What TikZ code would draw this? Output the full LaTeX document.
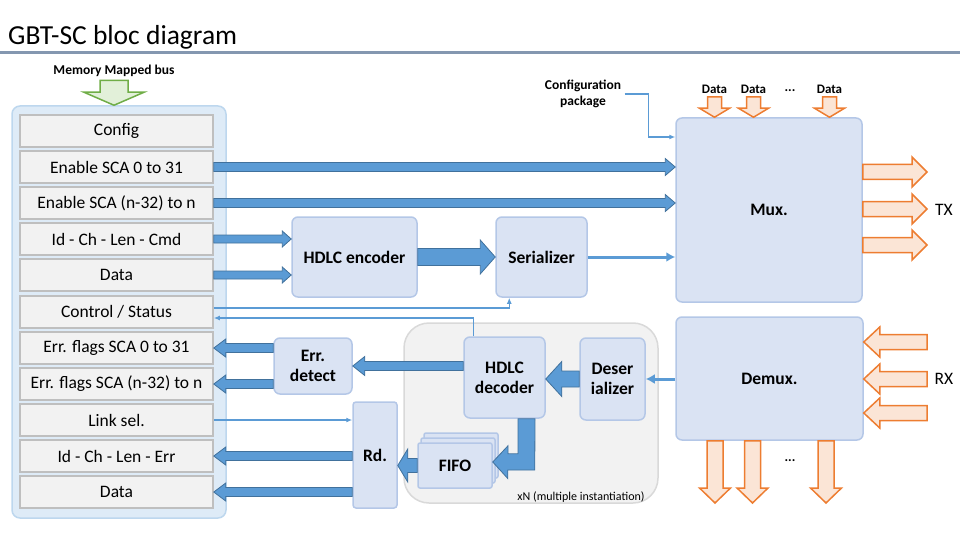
\documentclass[tikz,border=0pt]{standalone}
\usepackage{fontspec}
\setmainfont{Carlito}
\usepackage{xcolor}
\usepackage{tikz}
\usetikzlibrary{arrows.meta,calc}

\definecolor{arrowfill}{HTML}{5B9BD5}
\definecolor{arrowline}{HTML}{41719C}
\definecolor{boxfill}{HTML}{DAE3F3}
\definecolor{boxline}{HTML}{B4C7E7}
\definecolor{busfill}{HTML}{DEEBF7}
\definecolor{busline}{HTML}{BDD7EE}
\definecolor{rowfill}{HTML}{F2F2F2}
\definecolor{rowline}{HTML}{BFBFBF}
\definecolor{instfill}{HTML}{F2F2F2}
\definecolor{instline}{HTML}{D9D9D9}
\definecolor{orangefill}{HTML}{FBE5D6}
\definecolor{orangeline}{HTML}{ED7D31}
\definecolor{greenfill}{HTML}{E2F0D9}
\definecolor{greenline}{HTML}{70AD47}
\definecolor{titleline}{HTML}{8497B0}

% block arrow: [style]{from}{to}{shaft half width}{head half width}{head length}
\newcommand{\blockarrow}[6][bluearrow]{%
  \path (#2) coordinate (ba-s) (#3) coordinate (ba-e);
  \path ($(ba-e)!#6!(ba-s)$) coordinate (ba-h);
  \draw[#1] ($(ba-s)!#4!90:(ba-e)$) -- ($(ba-h)!#4!90:(ba-e)$)
    -- ($(ba-h)!#5!90:(ba-e)$) -- (ba-e) -- ($(ba-h)!#5!-90:(ba-e)$)
    -- ($(ba-h)!#4!-90:(ba-e)$) -- ($(ba-s)!#4!-90:(ba-e)$) -- cycle;}

\begin{document}
\begin{tikzpicture}[x=1pt, y=-1pt,
    rowbox/.style={draw=rowline, fill=rowfill, line width=1.5pt, minimum width=193pt, minimum height=32pt, font=\fontsize{17.5}{20}\selectfont},
    blockbox/.style={draw=boxline, fill=boxfill, line width=1.5pt, rounded corners=6pt, align=center, font=\bfseries\fontsize{17.5}{20}\selectfont},
    smalllabel/.style={align=center, font=\bfseries\fontsize{13.5}{16}\selectfont},
    bluearrow/.style={fill=arrowfill, draw=arrowline, line width=0.8pt},
    orangearrow/.style={fill=orangefill, draw=orangeline, line width=1.5pt},
    greenarrow/.style={fill=greenfill, draw=greenline, line width=1.5pt},
    thinline/.style={draw=arrowfill, line width=1.3pt, -{Latex[length=6pt,width=5pt]}},
    thickline/.style={draw=arrowfill, line width=3pt, -{Latex[length=9pt,width=10pt]}}]
    \useasboundingbox (0,0) rectangle (960,540);

    % Title
    \node[anchor=base west, inner sep=0pt, font=\fontsize{27.5}{30}\selectfont] (title) at (8,45) {GBT-SC bloc diagram};
    \draw[titleline, line width=3pt] (0,52.5) -- (960,52.5);

    % Register bank
    \node[smalllabel] (bus) at (114,71) {Memory Mapped bus};
    \node[fill=busfill, draw=busline, line width=1.5pt, rounded corners=8pt, minimum width=214pt, minimum height=412pt] (regs) at (119,312) {};
    \blockarrow[greenarrow]{bus.south}{bus.south |- regs.north}{14pt}{30pt}{13pt}
    \node[rowbox] (config) at (116.5,131) {Config};
    \node[rowbox] (ensca) at (116.5,167) {Enable SCA 0 to 31};
    \node[rowbox] (enscan) at (116.5,203) {Enable SCA (n-32) to n};
    \node[rowbox] (cmd) at (116.5,239) {Id - Ch - Len - Cmd};
    \node[rowbox] (txdata) at (116.5,275) {Data};
    \node[rowbox] (ctrl) at (116.5,312) {Control / Status};
    \node[rowbox] (errsca) at (116.5,348) {Err. flags SCA 0 to 31};
    \node[rowbox] (errscan) at (116.5,384) {Err. flags SCA (n-32) to n};
    \node[rowbox] (linksel) at (116.5,420) {Link sel.};
    \node[rowbox] (rsp) at (116.5,456) {Id - Ch - Len - Err};
    \node[rowbox] (rxdata) at (116.5,492) {Data};

    % TX path
    \node[blockbox, minimum width=125pt, minimum height=80pt] (enc) at (354.5,257) {HDLC encoder};
    \node[blockbox, minimum width=91pt, minimum height=80pt] (ser) at (541.5,257) {Serializer};
    \node[blockbox, minimum width=186pt, minimum height=184pt] (mux) at (769,210) {Mux.};
    \node[smalllabel] (cfgpkg) at (583,94) {Configuration\\package};
    \node[smalllabel, font=\bfseries\fontsize{13}{15}\selectfont] (d1) at (714.5,89) {Data};
    \node[smalllabel, font=\bfseries\fontsize{13}{15}\selectfont] (d2) at (753.5,89) {Data};
    \node[smalllabel, font=\bfseries\fontsize{13}{15}\selectfont] (d3) at (829.5,89) {Data};
    \node[smalllabel] (tdots) at (790,91) {...};
    \node[font=\fontsize{17.5}{20}\selectfont] (tx) at (944,210) {TX};
    \coordinate (tx1) at (927,172);
    \coordinate (tx2) at (927,209);
    \coordinate (tx3) at (927,245);

    % RX path
    \node[fill=instfill, draw=instline, line width=1.5pt, rounded corners=25pt, minimum width=254pt, minimum height=180pt] (inst) at (531,413) {};
    \node[font=\fontsize{12}{14}\selectfont] (xn) at (581,497) {xN (multiple instantiation)};
    \node[blockbox, minimum width=81pt, minimum height=81pt] (dec) at (504.5,377.5) {HDLC\\decoder};
    \node[blockbox, minimum width=65pt, minimum height=82pt] (deser) at (612.5,379) {Deser\\ializer};
    \node[blockbox, rounded corners=2pt, minimum width=74pt, minimum height=45pt] (fifoc) at (461,455.5) {};
    \node[blockbox, rounded corners=2pt, minimum width=74pt, minimum height=45pt] (fifob) at (458,460.5) {};
    \node[blockbox, rounded corners=2pt, minimum width=74pt, minimum height=45pt] (fifo) at (455,465.5) {FIFO};
    \node[blockbox, minimum width=78pt, minimum height=56pt] (errdet) at (313,366) {Err.\\detect};
    \node[blockbox, rounded corners=3pt, minimum width=44pt, minimum height=106pt] (rd) at (375,455) {Rd.};
    \node[blockbox, minimum width=187pt, minimum height=123pt] (demux) at (769.5,378.5) {Demux.};
    \node[font=\fontsize{17.5}{20}\selectfont] (rx) at (944,379) {RX};
    \node[smalllabel] (bdots) at (790,461) {...};
    \coordinate (rx1) at (927,342);
    \coordinate (rx2) at (927,379);
    \coordinate (rx3) at (927,413);
    \coordinate (dd1) at (715,503);
    \coordinate (dd2) at (752.5,503);
    \coordinate (dd3) at (826,503);

    % Blue buses
    \blockarrow{ensca.east}{mux.west |- ensca.east}{4.5pt}{8.5pt}{10pt}
    \blockarrow{enscan.east}{mux.west |- enscan.east}{4.5pt}{8.5pt}{10pt}
    \blockarrow{cmd.east}{enc.west |- cmd.east}{4pt}{8pt}{9pt}
    \blockarrow{txdata.east}{enc.west |- txdata.east}{4pt}{8pt}{9pt}
    \blockarrow{enc.east}{ser.west}{8.5pt}{17pt}{15pt}
    \blockarrow{errdet.west |- errsca.east}{errsca.east}{4.5pt}{9pt}{12pt}
    \blockarrow{errdet.west |- errscan.east}{errscan.east}{4.5pt}{9pt}{12pt}
    \blockarrow{dec.west |- errdet.east}{errdet.east}{4.5pt}{9.5pt}{12pt}
    \blockarrow{rd.west |- rsp.east}{rsp.east}{4.5pt}{9pt}{12pt}
    \blockarrow{rd.west |- rxdata.east}{rxdata.east}{4.5pt}{9pt}{12pt}
    \blockarrow{fifo.west}{rd.east |- fifo.west}{7pt}{16.5pt}{10pt}
    \blockarrow{deser.west}{dec.east |- deser.west}{8pt}{17.5pt}{16pt}
    \draw[bluearrow] ([xshift=13.5pt]dec.south) -- ++(0,35) -- ++(-10,0) -- ++(0,-8)
        -- ([yshift=3.5pt]fifo.east) -- ++(15,16.5) -- ++(0,-8.5) -- ++(27,0)
        -- ([xshift=30.5pt]dec.south) -- cycle;

    % Orange links
    \blockarrow[orangearrow]{d1.south}{d1.south |- mux.north}{7pt}{15pt}{9pt}
    \blockarrow[orangearrow]{d2.south}{d2.south |- mux.north}{7pt}{15pt}{9pt}
    \blockarrow[orangearrow]{d3.south}{d3.south |- mux.north}{7pt}{15pt}{9pt}
    \blockarrow[orangearrow]{mux.east |- tx1}{tx1}{7.5pt}{15pt}{15pt}
    \blockarrow[orangearrow]{mux.east |- tx2}{tx2}{7.5pt}{15pt}{15pt}
    \blockarrow[orangearrow]{mux.east |- tx3}{tx3}{7.5pt}{15pt}{15pt}
    \blockarrow[orangearrow]{rx1}{demux.east |- rx1}{7.5pt}{15pt}{16pt}
    \blockarrow[orangearrow]{rx2}{demux.east |- rx2}{7.5pt}{15pt}{16pt}
    \blockarrow[orangearrow]{rx3}{demux.east |- rx3}{7.5pt}{15pt}{16pt}
    \blockarrow[orangearrow]{demux.south -| dd1}{dd1}{8pt}{15.5pt}{15pt}
    \blockarrow[orangearrow]{demux.south -| dd2}{dd2}{8pt}{15.5pt}{15pt}
    \blockarrow[orangearrow]{demux.south -| dd3}{dd3}{8pt}{15.5pt}{15pt}

    % Thin links
    \draw[thinline] (cfgpkg.east) -- ++(24,0) |- (mux.west |- 0,137);
    \draw[thickline] (ser.east) -- (mux.west |- ser.east);
    \draw[thickline] (demux.west |- deser.east) -- (deser.east);
    \draw[thinline] ([yshift=4pt]ctrl.east) -| ([xshift=14pt]ser.south west);
    \draw[thinline] ([xshift=10pt]dec.north west) |- ([yshift=-6pt]ctrl.east);
    \draw[thinline] (linksel.east) -- (rd.west |- linksel.east);
\end{tikzpicture}
\end{document}
